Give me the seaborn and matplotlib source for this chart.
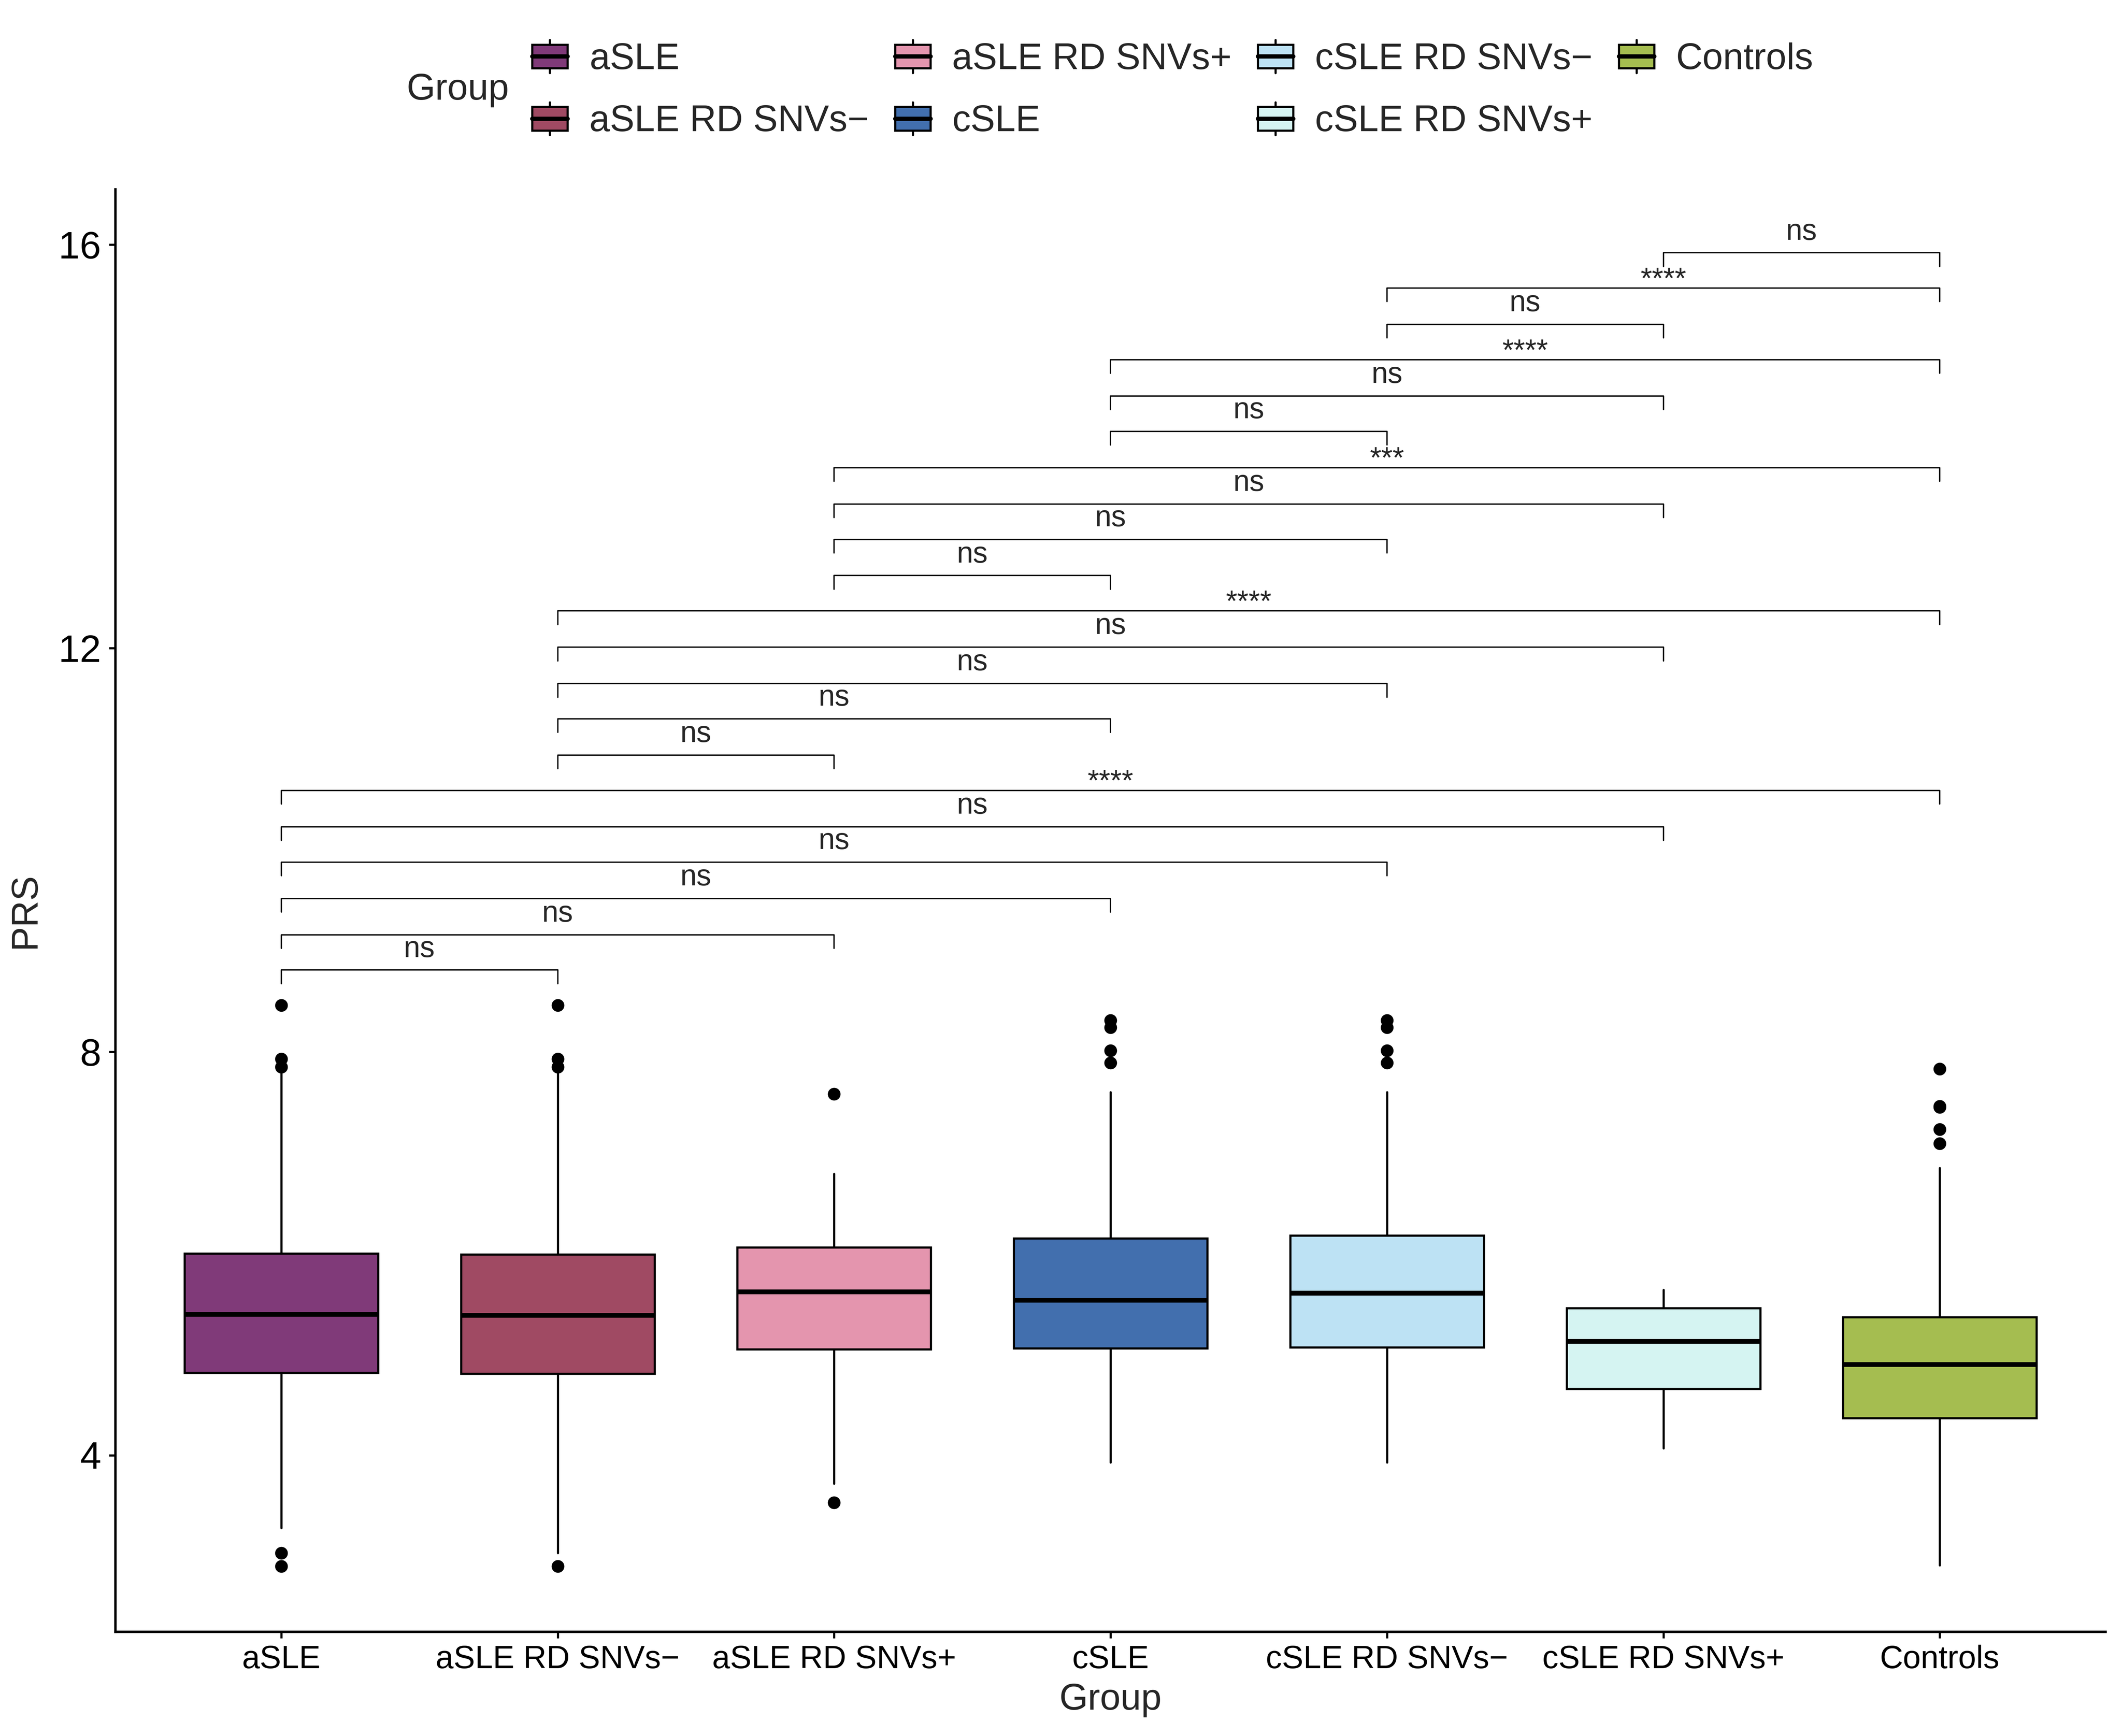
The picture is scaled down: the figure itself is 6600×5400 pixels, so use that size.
import matplotlib
matplotlib.use("Agg")
import matplotlib.pyplot as plt
from matplotlib.legend_handler import HandlerBase
from matplotlib.patches import Rectangle
from matplotlib.lines import Line2D
import seaborn as sns

groups = ["aSLE", "aSLE RD SNVs\u2212", "aSLE RD SNVs+", "cSLE",
          "cSLE RD SNVs\u2212", "cSLE RD SNVs+", "Controls"]
colors = ["#803A79", "#A04A63", "#E495AE", "#426FAE", "#BDE2F4", "#D5F4F2", "#A5BD50"]

# box statistics
whisker_lo = [3.28, 3.03, 3.72, 3.93, 3.93, 4.07, 2.91]
q1 = [4.82, 4.81, 5.05, 5.06, 5.07, 4.66, 4.37]
medians = [5.40, 5.39, 5.62, 5.54, 5.61, 5.13, 4.90]
q3 = [6.00, 5.99, 6.06, 6.15, 6.18, 5.46, 5.37]
whisker_hi = [7.80, 7.80, 6.79, 7.60, 7.60, 5.64, 6.85]
outliers = [
    [8.46, 7.93, 7.85, 3.03, 2.90],
    [8.46, 7.93, 7.85, 2.90],
    [7.58, 3.53],
    [8.31, 8.24, 8.01, 7.89],
    [8.31, 8.24, 8.01, 7.89],
    [],
    [7.83, 7.46, 7.45, 7.23, 7.09],
]

# pairwise comparisons (stat_compare_means style)
pair_a = ["aSLE"] * 6 + ["aSLE RD SNVs\u2212"] * 5 + ["aSLE RD SNVs+"] * 4 + ["cSLE"] * 3 \
    + ["cSLE RD SNVs\u2212"] * 2 + ["cSLE RD SNVs+"]
pair_b = ["aSLE RD SNVs\u2212", "aSLE RD SNVs+", "cSLE", "cSLE RD SNVs\u2212", "cSLE RD SNVs+", "Controls",
          "aSLE RD SNVs+", "cSLE", "cSLE RD SNVs\u2212", "cSLE RD SNVs+", "Controls",
          "cSLE", "cSLE RD SNVs\u2212", "cSLE RD SNVs+", "Controls",
          "cSLE RD SNVs\u2212", "cSLE RD SNVs+", "Controls",
          "cSLE RD SNVs+", "Controls",
          "Controls"]
pair_label = ["ns", "ns", "ns", "ns", "ns", "****",
              "ns", "ns", "ns", "ns", "****",
              "ns", "ns", "ns", "***",
              "ns", "ns", "****",
              "ns", "****",
              "ns"]
pair_y = [8.81, 9.16, 9.52, 9.88, 10.23, 10.59, 10.94, 11.30, 11.65, 12.01, 12.37,
          12.72, 13.08, 13.43, 13.79, 14.15, 14.50, 14.86, 15.21, 15.57, 15.92]


class BoxKey(HandlerBase):
    def create_artists(self, legend, orig_handle, xdescent, ydescent, width, height, fontsize, trans):
        x0, y0 = -xdescent, -ydescent
        cx = x0 + width / 2
        box = Rectangle((x0, y0 + 0.14 * height), width, 0.72 * height,
                        facecolor=orig_handle.get_facecolor(), edgecolor="black", lw=1.6, transform=trans)
        med = Line2D([x0, x0 + width], [y0 + 0.5 * height] * 2, color="black", lw=3.2, transform=trans)
        top = Line2D([cx, cx], [y0 + 0.86 * height, y0 + height], color="black", lw=1.6, transform=trans)
        bot = Line2D([cx, cx], [y0, y0 + 0.14 * height], color="black", lw=1.6, transform=trans)
        return [top, bot, box, med]


sns.set_theme(style="ticks")
plt.rcParams["font.family"] = ["Liberation Sans", "DejaVu Sans"]

fig = plt.figure(figsize=(22, 18), dpi=300)
ax = fig.add_axes([0.0544, 0.060, 0.9379, 0.831])

stats = []
for k, g in enumerate(groups):
    stats.append(dict(label=g, whislo=whisker_lo[k], q1=q1[k], med=medians[k],
                      q3=q3[k], whishi=whisker_hi[k], fliers=outliers[k]))

bp = ax.bxp(stats, positions=range(len(groups)), widths=0.7, patch_artist=True,
            showcaps=False,
            boxprops=dict(edgecolor="black", linewidth=1.6),
            whiskerprops=dict(color="black", linewidth=1.6),
            medianprops=dict(color="black", linewidth=3.6),
            flierprops=dict(marker="o", markerfacecolor="black", markeredgecolor="black", markersize=8.5))
for patch, c in zip(bp["boxes"], colors):
    patch.set_facecolor(c)
for w in bp["whiskers"]:
    w.set_zorder(1)

# comparison brackets
tip = 0.135
for a, b, lab, y in zip(pair_a, pair_b, pair_label, pair_y):
    i, j = groups.index(a), groups.index(b)
    ax.plot([i, i, j, j], [y - tip, y, y, y - tip], color="black", lw=1.0, zorder=3)
    if lab == "ns":
        ax.text((i + j) / 2, y + 0.13, lab, ha="center", va="baseline", fontsize=22)
    else:
        ax.text((i + j) / 2, y + 0.0, lab, ha="center", va="baseline", fontsize=22)

ax.set_xlim(-0.6, 6.6)
ax.set_ylim(2.25, 16.55)
ax.set_yticks([4, 8, 12, 16])
ax.set_xticks(range(len(groups)))
ax.set_xticklabels(groups)
ax.set_xlabel("Group", fontsize=27.5, labelpad=6)
ax.set_ylabel("PRS", fontsize=27.5, labelpad=12)
ax.tick_params(axis="both", length=4.9, width=1.6, colors="black")
ax.tick_params(axis="x", labelsize=24, pad=4.6)
ax.tick_params(axis="y", labelsize=28.5, pad=5.8)
sns.despine(ax=ax)
for s in ["left", "bottom"]:
    ax.spines[s].set_linewidth(1.8)
    ax.spines[s].set_color("black")

handles = [Rectangle((0, 0), 1, 1, facecolor=c) for c in colors]
fig.legend(handles, groups, handler_map={Rectangle: BoxKey()}, ncol=4,
           loc="upper left", bbox_to_anchor=(0.2508, 0.977), frameon=False,
           fontsize=27.5, handlelength=0.96, handleheight=1.0, handletextpad=0.59,
           columnspacing=0.71, labelspacing=0.69, borderpad=0, borderaxespad=0)
fig.text(0.1915, 0.948, "Group", ha="left", va="center", fontsize=27.5)

fig.savefig("out.png", dpi=300, facecolor="white")
